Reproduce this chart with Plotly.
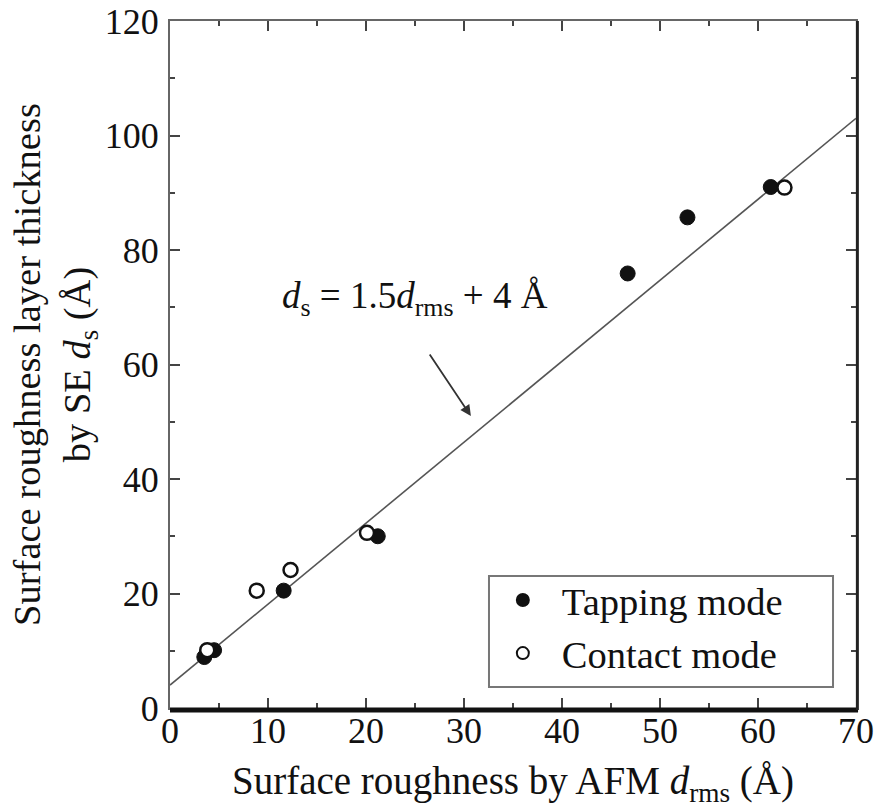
import plotly.graph_objects as go

# ---- data ----
tap_x = [3.5, 4.5, 11.6, 21.2, 46.7, 52.8, 61.3]
tap_y = [8.9, 10.1, 20.5, 30.0, 75.9, 85.7, 91.0]
con_x = [3.8, 8.85, 12.3, 20.1, 62.7]
con_y = [10.1, 20.5, 24.1, 30.6, 90.9]
fit_x = [0, 70]
fit_y = [4, 103]
x_ticks = [0, 10, 20, 30, 40, 50, 60, 70]
y_ticks = [0, 20, 40, 60, 80, 100, 120]

FONT = "Liberation Serif, Times New Roman, serif"

fig = go.Figure()
fig.add_trace(go.Scatter(x=fit_x, y=fit_y, mode="lines",
                         line=dict(color="#555555", width=1.6),
                         showlegend=False, hoverinfo="skip"))
fig.add_trace(go.Scatter(x=tap_x, y=tap_y, mode="markers", name="Tapping mode",
                         marker=dict(symbol="circle", size=15, color="#111111",
                                     line=dict(color="#111111", width=1))))
fig.add_trace(go.Scatter(x=con_x, y=con_y, mode="markers", name="Contact mode",
                         marker=dict(symbol="circle", size=14, color="white",
                                     line=dict(color="#111111", width=2.5))))

axis_common = dict(showline=True, linecolor="#666666", linewidth=2, mirror="ticks",
                   ticks="inside", tickcolor="#444444", tickwidth=2, ticklen=10,
                   showgrid=False, zeroline=False, automargin=False,
                   tickfont=dict(family=FONT, size=36, color="#111111"))

fig.update_xaxes(range=[0, 70], tickvals=x_ticks,
                 minor=dict(dtick=5, ticks="inside", ticklen=5, tickcolor="#444444", tickwidth=2),
                 title_text="Surface roughness by AFM <i>d</i><sub>rms</sub> (Å)",
                 title_font=dict(family=FONT, size=39, color="#111111"),
                 title_standoff=22, ticklabelstandoff=-10, **axis_common)
fig.update_yaxes(range=[0, 120], tickvals=y_ticks,
                 minor=dict(dtick=10, ticks="inside", ticklen=5, tickcolor="#444444", tickwidth=2),
                 title_text="Surface roughness layer thickness<br>by SE <i>d</i><sub>s</sub> (Å)",
                 title_font=dict(family=FONT, size=38.5, color="#111111"),
                 title_standoff=2, ticklabelstandoff=2, **axis_common)

# thick bottom and right frame lines
fig.add_shape(type="line", xref="paper", yref="paper", x0=0, x1=1.003, y0=-0.003, y1=-0.003,
              line=dict(color="#111111", width=5))
fig.add_shape(type="line", xref="paper", yref="paper", x0=1.002, x1=1.002, y0=-0.003, y1=1,
              line=dict(color="#222222", width=3))

# legend box
fig.add_shape(type="rect", xref="paper", yref="paper", x0=0.465, x1=0.9665, y0=0.0306, y1=0.192,
              line=dict(color="#777777", width=2), fillcolor="rgba(0,0,0,0)")

# equation + arrow
fig.add_annotation(x=25.0, y=71.5, xref="x", yref="y", showarrow=False,
                   text="<i>d</i><sub>s</sub> = 1.5<i>d</i><sub>rms</sub> + 4 Å",
                   font=dict(family=FONT, size=37, color="#111111"))
fig.add_annotation(x=30.7, y=51.0, ax=26.4, ay=62.0, xref="x", yref="y", axref="x", ayref="y",
                   showarrow=True, arrowhead=2, arrowsize=1.2, arrowwidth=1.8,
                   arrowcolor="#333333", text="")

fig.update_layout(
    width=876, height=808,
    margin=dict(l=170, r=20, t=21, b=100),
    paper_bgcolor="white", plot_bgcolor="white",
    font=dict(family=FONT, color="#111111"),
    legend=dict(x=0.4575, y=0.203, xanchor="left", yanchor="top",
                bgcolor="rgba(0,0,0,0)", borderwidth=0,
                font=dict(family=FONT, size=38.5, color="#111111"),
                itemwidth=68, itemsizing="constant", tracegroupgap=0),
)

fig.write_html("out.html")
